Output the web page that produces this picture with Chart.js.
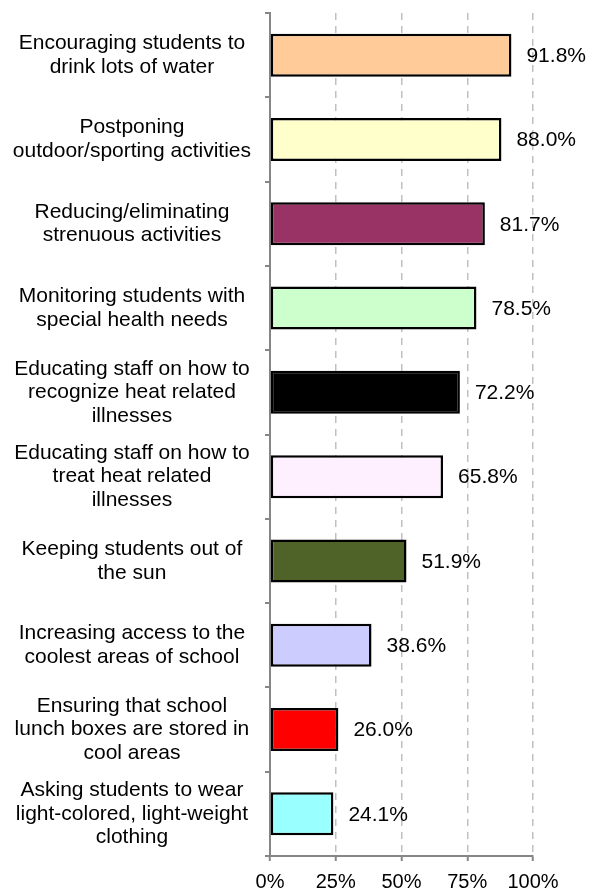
<!DOCTYPE html>
<html>
<head>
<meta charset="utf-8">
<script src="https://cdn.jsdelivr.net/npm/chart.js@4"></script>
<style>
    html, body { margin: 0; padding: 0; background: #fff; }
    #wrap { width: 590px; height: 890px; }
</style>
</head>
<body>
<div id="wrap"><canvas id="heatChart"></canvas></div>
<script>
const categories = [
    ["Encouraging students to", "drink lots of water"],
    ["Postponing", "outdoor/sporting activities"],
    ["Reducing/eliminating", "strenuous activities"],
    ["Monitoring students with", "special health needs"],
    ["Educating staff on how to", "recognize heat related", "illnesses"],
    ["Educating staff on how to", "treat heat related", "illnesses"],
    ["Keeping students out of", "the sun"],
    ["Increasing access to the", "coolest areas of school"],
    ["Ensuring that school", "lunch boxes are stored in", "cool areas"],
    ["Asking students to wear", "light-colored, light-weight", "clothing"]
];
const percents = [91.8, 88.0, 81.7, 78.5, 72.2, 65.8, 51.9, 38.6, 26.0, 24.1];
const barColors = [
    "#FFCC99", "#FFFFCC", "#993366", "#CCFFCC", "#000000",
    "#FFF0FF", "#4F6228", "#CCCCFF", "#FF0000", "#99FFFF"
];
const xTicks = [0, 25, 50, 75, 100];

const FONT = "'Liberation Sans', Arial, sans-serif";
const AXIS_GREY = "#868686";

// writes the value to the right of every bar
const valueLabels = {
    id: "valueLabels",
    afterDatasetsDraw(chart) {
        const { ctx } = chart;
        const meta = chart.getDatasetMeta(0);
        ctx.save();
        ctx.font = "21px " + FONT;
        ctx.fillStyle = "#000";
        ctx.textAlign = "left";
        ctx.textBaseline = "middle";
        meta.data.forEach((bar, i) => {
            ctx.fillText(percents[i].toFixed(1) + "%", bar.x + 15, bar.y + 1);
        });
        ctx.restore();
    }
};

document.addEventListener("DOMContentLoaded", function () {
    const ctx = document.getElementById("heatChart").getContext("2d");

    new Chart(ctx, {
        type: "bar",
        data: {
            labels: categories,
            datasets: [{
                data: percents,
                backgroundColor: barColors,
                borderColor: "#000",
                borderWidth: 2.5,
                borderSkipped: false,
                categoryPercentage: 1,
                barPercentage: 0.51
            }]
        },
        options: {
            indexAxis: "y",
            responsive: true,
            maintainAspectRatio: false,
            animation: false,
            layout: { padding: { top: 13, right: 57, bottom: 0, left: 0 } },
            plugins: {
                legend: { display: false },
                tooltip: { enabled: false }
            },
            scales: {
                x: {
                    min: 0,
                    max: 100,
                    afterBuildTicks: scale => {
                        scale.ticks = xTicks.map(v => ({ value: v }));
                    },
                    afterFit: scale => { scale.height = 34; },
                    border: { color: AXIS_GREY, width: 2, dash: [7, 6] },
                    grid: {
                        color: "#c0c0c0",
                        lineWidth: 1.5,
                        drawTicks: true,
                        tickLength: 5,
                        tickColor: AXIS_GREY,
                        tickBorderDash: [],
                        tickWidth: 2
                    },
                    ticks: {
                        color: "#000",
                        font: { family: FONT, size: 20 },
                        padding: 9,
                        maxRotation: 0,
                        callback: v => v + "%"
                    }
                },
                y: {
                    afterFit: scale => {
                        scale.width = 270;
                        scale.paddingTop = 0;
                        scale.paddingBottom = 0;
                    },
                    border: { color: AXIS_GREY, width: 2 },
                    grid: {
                        offset: true,
                        drawOnChartArea: false,
                        drawTicks: true,
                        tickLength: 5,
                        color: AXIS_GREY,
                        lineWidth: 2
                    },
                    ticks: {
                        color: "#000",
                        crossAlign: "center",
                        padding: 14,
                        font: { family: FONT, size: 21, lineHeight: 1.12 }
                    }
                }
            }
        },
        plugins: [valueLabels]
    });
});
</script>
</body>
</html>
